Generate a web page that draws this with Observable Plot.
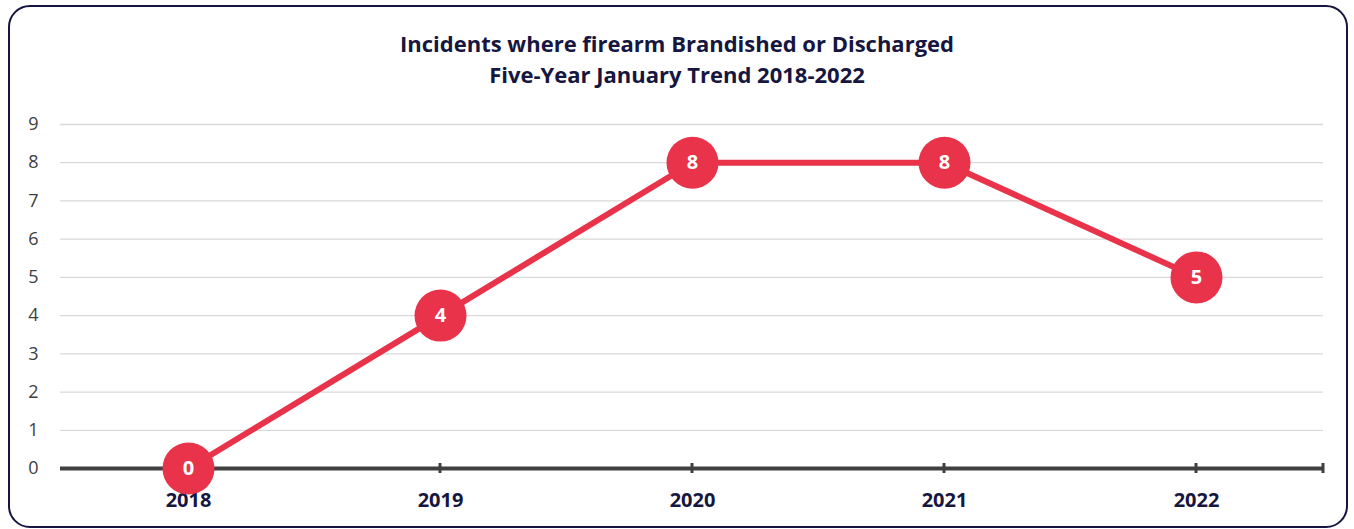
<!DOCTYPE html>
<html>
<head>
<meta charset="utf-8">
<script src="https://cdn.jsdelivr.net/npm/d3@7"></script>
<script src="https://cdn.jsdelivr.net/npm/@observablehq/plot@0.6"></script>
<style>
  html, body { margin: 0; padding: 0; background: #fff; }
  #wrap { position: relative; width: 1354px; height: 529px; overflow: hidden; font-family: "Open Sans", sans-serif; }
  #frame { position: absolute; left: 8px; top: 5px; width: 1336px; height: 519px; border: 2.5px solid #151540; border-radius: 22px; pointer-events: none; }
  #title { height: 95px; box-sizing: border-box; padding-top: 28px; text-align: center; font-weight: 700; font-size: 22px; line-height: 31px; color: #16163f; }
  #chart svg { display: block; }
</style>
</head>
<body>
<div id="wrap">
  <div id="title">Incidents where firearm Brandished or Discharged<br>Five-Year January Trend 2018-2022</div>
  <div id="chart"></div>
  <div id="frame"></div>
</div>
<script>
const years = ["2018", "2019", "2020", "2021", "2022"];
const incidents = [0, 4, 8, 8, 5];
const yTicks = [0, 1, 2, 3, 4, 5, 6, 7, 8, 9];

const data = years.map((y, i) => ({year: y, value: incidents[i]}));

const RED = "#e8334a";
const AXIS = "#404040";
const NAVY = "#16163f";

function axisTicks(index, scales, values, dimensions) {
  const g = d3.create("svg:g");
  const y0 = scales.y(0);
  const xs = years.map(d => scales.x(d));
  xs.push(dimensions.width - dimensions.marginRight);
  for (const x of xs) {
    g.append("line")
      .attr("x1", x).attr("x2", x)
      .attr("y1", y0 - 5).attr("y2", y0 + 5)
      .attr("stroke", AXIS).attr("stroke-width", 3);
  }
  return g.node();
}

const chart = Plot.plot({
  width: 1354,
  height: 434,
  marginTop: 29,
  marginBottom: 61,
  marginLeft: 60,
  marginRight: 31,
  style: {fontFamily: "Open Sans, sans-serif", background: "transparent"},
  x: {type: "point", domain: years, padding: 0.5, axis: null},
  y: {domain: [0, 9], axis: null},
  marks: [
    Plot.ruleY(yTicks.filter(d => d > 0), {stroke: "#d9d9d9", strokeWidth: 1.3}),
    Plot.text(yTicks, {y: d => d, frameAnchor: "left", dx: -22, textAnchor: "end", lineAnchor: "middle", text: d => String(d), fontSize: 18, fill: AXIS}),
    Plot.ruleY([0], {stroke: AXIS, strokeWidth: 4}),
    axisTicks,
    Plot.text(years, {x: d => d, frameAnchor: "bottom", lineAnchor: "middle", dy: 32, text: d => d, fontSize: 20, fontWeight: "bold", fill: NAVY}),
    Plot.line(data, {x: "year", y: "value", stroke: RED, strokeWidth: 6}),
    Plot.dot(data, {x: "year", y: "value", r: 26, fill: RED, stroke: "none"}),
    Plot.text(data, {x: "year", y: "value", text: d => String(d.value), fill: "white", fontWeight: "bold", fontSize: 20})
  ]
});
document.getElementById("chart").appendChild(chart);
</script>
</body>
</html>
